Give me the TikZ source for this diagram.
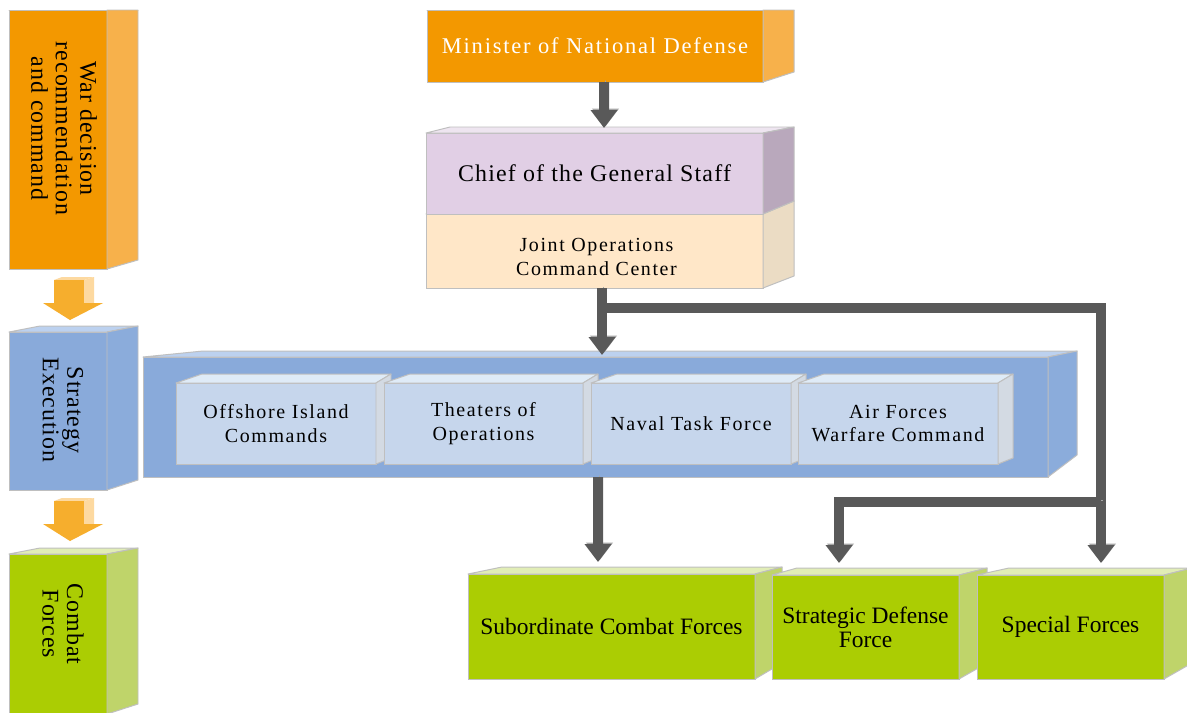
\documentclass[tikz,border=0pt]{standalone}
\usepackage{fontspec}
\setmainfont{Liberation Serif}
\usetikzlibrary{arrows.meta, calc}
\definecolor{corange}{HTML}{F39800}
\definecolor{corangeside}{HTML}{F7B14B}
\definecolor{carrow}{HTML}{F6AE2D}
\definecolor{carrowlight}{HTML}{FDD9A0}
\definecolor{cblue}{HTML}{89AADA}
\definecolor{cbluetop}{HTML}{BCD1EF}
\definecolor{cblueside}{HTML}{8BACDB}
\definecolor{cpale}{HTML}{C6D6EC}
\definecolor{cpaletop}{HTML}{DFEBF7}
\definecolor{cpaleside}{HTML}{D3DAE3}
\definecolor{cgreen}{HTML}{ABCD03}
\definecolor{cgreentop}{HTML}{E1EDB6}
\definecolor{cgreenside}{HTML}{BFD46A}
\definecolor{clilac}{HTML}{E1CFE5}
\definecolor{clilactop}{HTML}{EEE5F0}
\definecolor{clilacside}{HTML}{B9A8BC}
\definecolor{cpeach}{HTML}{FFE7C8}
\definecolor{cpeachside}{HTML}{EBDCC4}
\definecolor{cedge}{HTML}{BFBFBF}
\definecolor{cpipe}{HTML}{595959}
\definecolor{cpipehi}{HTML}{A6A6A6}
\newlength{\pxu}\setlength{\pxu}{0.025cm}
\newcommand{\ftxt}[3]{\fontsize{#1}{#2}\selectfont\addfontfeature{LetterSpace=#3}}
% top and side faces of a front node: node, dx left, dx right, dy top, dy bottom, top colour, side colour
\newcommand{\cubefaces}[7]{%
  \filldraw[facepart=#6] (#1.north west) -- ++(#2,#4) -- ($(#1.north east)+(#3,#4)$) -- (#1.north east) -- cycle;
  \filldraw[facepart=#7] (#1.north east) -- ++(#3,#4) -- ($(#1.south east)+(#3,#5)$) -- (#1.south east) -- cycle;}
\newcommand{\stagearrow}[1]{%
  \begin{scope}[shift={(#1.south)}]
    \fill[carrowlight] (-4,11) -- (4,8) -- (36,8) -- (26,11) -- cycle;
    \fill[carrowlight] (26,11) -- (36,8) -- (36,34) -- (26,34) -- cycle;
    \fill[carrow] (-4,11) rectangle (26,34);
    \fill[carrow] (-15,34) -- (45,34) -- (12,51) -- cycle;
  \end{scope}}
\tikzset{
  face/.style={draw=cedge, fill=#1, line width=0.7pt, inner sep=0pt, outer sep=0pt, align=center},
  dims/.style 2 args={minimum width=#1*\pxu, minimum height=#2*\pxu},
  facepart/.style={draw=cedge, fill=#1, line width=0.7pt, line join=round},
  stagetext/.style={rotate=-90, align=center, font=\ftxt{17}{17.4}{4}},
  unittext/.style={font=\ftxt{14.2}{17}{8}},
  forcetext/.style={font=\ftxt{16.7}{17}{0}},
  pipe/.style={draw=cpipe, line width=7.1pt, line join=miter,
    -{Triangle[width=18.4pt, length=12.8pt]},
    preaction={draw=cpipehi, transform canvas={shift={(1.5,-1.5)}}}},
}
\begin{document}
\begin{tikzpicture}[x=0.025cm, y=-0.025cm]
\useasboundingbox (0,0) rectangle (1187,712);
\clip (0,0) rectangle (1187,712);
\fill[white] (0,0) rectangle (1187,712);

% stage column
\node[face=corange, dims={98}{259}] (war) at (58,139.5) {};
\cubefaces{war}{31}{31}{0}{-9}{corangeside}{corangeside}
\node[stagetext] (wartxt) at ($(war.center)+(6,-11)$) {War decision\\recommendation\\and command};
\node[face=cblue, dims={98}{158}] (strat) at (58,411) {};
\cubefaces{strat}{31}{31}{-6}{-10}{cbluetop}{cblueside}
\node[stagetext] (strattxt) at ($(strat.center)+(5,-1)$) {Strategy\\Execution};
\node[face=cgreen, dims={98}{160}] (combat) at (58,634) {};
\cubefaces{combat}{31}{31}{-6}{-10}{cgreentop}{cgreenside}
\node[stagetext] (combattxt) at ($(combat.center)+(5,-10)$) {Combat\\Forces};
\stagearrow{war}
\stagearrow{strat}

% command chain
\node[face=corange, dims={336}{72}, text=white, font=\ftxt{16}{19}{8}] (mnd) at (595,46) {Minister of National Defense};
\cubefaces{mnd}{31}{31}{0}{-10}{corangeside}{corangeside}
\node[face=cpeach, dims={337}{74}] (jocc) at (594.5,251) {};
\cubefaces{jocc}{31}{31}{-13}{-12}{cpeachside}{cpeachside}
\node[unittext, align=center] (jocctxt) at ($(jocc.center)+(2,6)$) {Joint Operations\\Command Center};
\node[face=clilac, dims={337}{81}, font=\ftxt{17}{20}{5}] (cgs) at (594.5,173.5) {Chief of the General Staff};
\cubefaces{cgs}{24}{31}{-6}{-13}{clilactop}{clilacside}

% strategy execution units
\node[face=cblue, dims={905}{120}] (sexec) at (595.5,417) {};
\cubefaces{sexec}{60}{29}{-6}{-22}{cbluetop}{cblueside}
\node[face=cpale, dims={200}{81}, unittext] (ioc) at (276,423.5) {Offshore Island\\Commands};
\cubefaces{ioc}{26}{15}{-9}{-6}{cpaletop}{cpaleside}
\node[face=cpale, dims={199}{81}, unittext] (too) at (483.5,423.5) {Theaters of\\Operations};
\cubefaces{too}{26}{15}{-9}{-6}{cpaletop}{cpaleside}
\node[face=cpale, dims={200}{81}, unittext] (ntf) at (691,423.5) {Naval Task Force};
\cubefaces{ntf}{26}{15}{-9}{-6}{cpaletop}{cpaleside}
\node[face=cpale, dims={200}{81}, unittext] (afwc) at (898,423.5) {Air Forces\\Warfare Command};
\cubefaces{afwc}{26}{15}{-9}{-6}{cpaletop}{cpaleside}

% combat forces
\node[face=cgreen, dims={287}{105}, forcetext] (scf) at (611.5,626.5) {Subordinate Combat Forces};
\cubefaces{scf}{34}{27}{-7}{-16}{cgreentop}{cgreenside}
\node[face=cgreen, dims={187}{104}, forcetext] (sdf) at (865.5,627) {Strategic Defense\\Force};
\cubefaces{sdf}{25}{28}{-7}{-16}{cgreentop}{cgreenside}
\node[face=cgreen, dims={187}{104}, forcetext] (spf) at (1070.5,627) {Special Forces};
\cubefaces{spf}{32}{28}{-7}{-16}{cgreentop}{cgreenside}

% connectors
\coordinate (split) at ($(jocc.south)+(7.5,20)$);
\coordinate (split2) at ($(spf.north)+(30.5,-73)$);
\draw[pipe] ($(mnd.south)+(9,0)$) -- ($(cgs.north)+(9.5,-5)$);
\draw[pipe] (split) -| ($(spf.north)+(30.5,-12)$);
\draw[pipe] (split2) -| ($(sdf.north)+(-26.5,-12)$);
\draw[pipe] ($(jocc.south)+(7.5,0)$) -- ($(sexec.north)+(6.5,-2)$);
\draw[pipe] ($(sexec.south)+(2.5,0)$) -- ($(scf.north)+(-13.5,-12)$);
\end{tikzpicture}
\end{document}
